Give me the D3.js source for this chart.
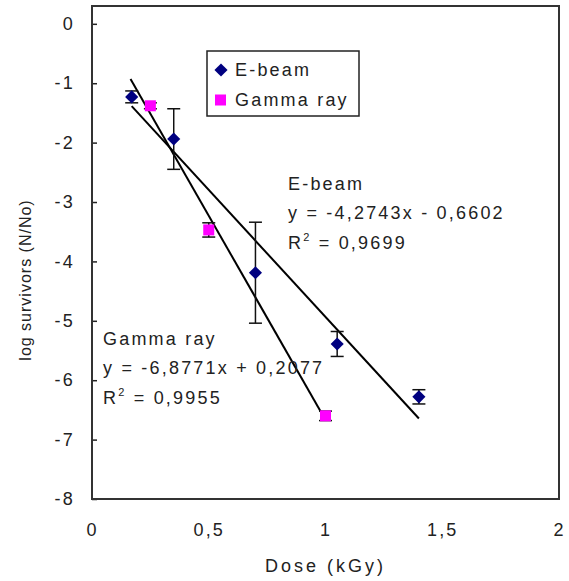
<!DOCTYPE html>
<html>
<head>
<meta charset="utf-8">
<script src="https://cdn.jsdelivr.net/npm/d3@7"></script>
<style>
  body { margin: 0; background: #fff; }
  text { font-family: "Liberation Sans", Arial, sans-serif; fill: #222; }
</style>
</head>
<body>
<svg id="chart" width="569" height="581"></svg>
<script>
// Survival data: log(N/No) against absorbed dose (kGy)
const ebeamDose = [0.17, 0.35, 0.70, 1.05, 1.40];
const ebeamLog  = [-1.23, -1.94, -4.19, -5.39, -6.28];
const ebeamErr  = [0.10, 0.51, 0.85, 0.21, 0.12];

const gammaDose = [0.25, 0.50, 1.00];
const gammaLog  = [-1.38, -3.47, -6.60];
const gammaErr  = [0.05, 0.12, 0.08];

// Linear trend lines (slope, intercept) and the dose span each one covers
const ebeamFit = [-4.2743, -0.6602];
const gammaFit = [-6.8771, 0.2077];
const ebeamFitSpan = [0.17, 1.40];
const gammaFitSpan = [0.165, 1.00];

const ebeamLabel = ["E-beam", "y = -4,2743x - 0,6602", "0,9699"];
const gammaLabel = ["Gamma ray", "y = -6,8771x + 0,2077", "0,9955"];
const seriesNames = ["E-beam", "Gamma ray"];

const xTicks = [0, 0.5, 1, 1.5, 2];
const xTickLabels = ["0", "0,5", "1", "1,5", "2"];
const yTicks = [0, -1, -2, -3, -4, -5, -6, -7, -8];

const navy = "#000080", magenta = "#ff00ff";

const svg = d3.select("#chart");
const frame = { left: 92, right: 559, top: 6, bottom: 499 };

const x = d3.scaleLinear().domain([0, 2]).range([frame.left, frame.right]);
const y = d3.scaleLinear().domain([-8, 0.3]).range([frame.bottom, frame.top]);

const fontSize = 18, spacing = 2.2;

// y axis: ticks point into the plot
const yAxis = svg.append("g")
  .attr("transform", `translate(${frame.left},0)`)
  .call(d3.axisLeft(y).tickValues(yTicks).tickSizeInner(-5).tickSizeOuter(0).tickPadding(17)
    .tickFormat(d => d === 0 ? "0" : "-" + Math.abs(d)));
yAxis.select(".domain").remove();
yAxis.selectAll(".tick line").attr("stroke", "#222").attr("stroke-width", 1.5);
yAxis.selectAll(".tick text").attr("font-size", fontSize).attr("letter-spacing", spacing)
  .attr("font-family", null).style("fill", "#222");

// x axis: labels only
const xAxis = svg.append("g")
  .attr("transform", `translate(0,${frame.bottom})`)
  .call(d3.axisBottom(x).tickValues(xTicks).tickSize(0).tickPadding(24)
    .tickFormat((d, i) => xTickLabels[i]));
xAxis.select(".domain").remove();
xAxis.selectAll(".tick text").attr("font-size", fontSize).attr("letter-spacing", spacing)
  .attr("font-family", null).style("fill", "#222");

// plot frame
svg.append("rect")
  .attr("x", frame.left).attr("y", frame.top)
  .attr("width", frame.right - frame.left).attr("height", frame.bottom - frame.top)
  .attr("fill", "none").attr("stroke", "#333").attr("stroke-width", 2);

// axis titles
svg.append("text")
  .attr("x", (frame.left + frame.right) / 2).attr("y", 572)
  .attr("text-anchor", "middle").attr("font-size", fontSize).attr("letter-spacing", 3)
  .text("Dose (kGy)");
svg.append("text")
  .attr("transform", `translate(31,280) rotate(-90)`)
  .attr("text-anchor", "middle").attr("font-size", 16).attr("letter-spacing", 1)
  .text("log survivors (N/No)");

// trend lines
function fitLine(fit, span) {
  svg.append("line")
    .attr("x1", x(span[0])).attr("y1", y(fit[0] * span[0] + fit[1]))
    .attr("x2", x(span[1])).attr("y2", y(fit[0] * span[1] + fit[1]))
    .attr("stroke", "#000").attr("stroke-width", 2);
}
fitLine(ebeamFit, ebeamFitSpan);
fitLine(gammaFit, gammaFitSpan);

// error bars
function errorBars(xs, ys, es) {
  const g = svg.append("g").attr("stroke", "#111").attr("stroke-width", 1.5);
  xs.forEach((d, i) => {
    const cx = x(d), hi = y(ys[i] + es[i]), lo = y(ys[i] - es[i]);
    g.append("line").attr("x1", cx).attr("x2", cx).attr("y1", hi).attr("y2", lo);
    g.append("line").attr("x1", cx - 6.5).attr("x2", cx + 6.5).attr("y1", hi).attr("y2", hi);
    g.append("line").attr("x1", cx - 6.5).attr("x2", cx + 6.5).attr("y1", lo).attr("y2", lo);
  });
}
errorBars(ebeamDose, ebeamLog, ebeamErr);
errorBars(gammaDose, gammaLog, gammaErr);

// markers
const diamond = d3.symbol().type(d3.symbolDiamond2).size(110);
svg.append("g").selectAll("path").data(ebeamDose).join("path")
  .attr("d", diamond)
  .attr("transform", (d, i) => `translate(${x(d)},${y(ebeamLog[i])})`)
  .attr("fill", navy);
svg.append("g").selectAll("rect").data(gammaDose).join("rect")
  .attr("x", d => x(d) - 5.5).attr("y", (d, i) => y(gammaLog[i]) - 5.5)
  .attr("width", 11).attr("height", 11).attr("fill", magenta);

// legend
const lg = svg.append("g");
lg.append("rect").attr("x", 207).attr("y", 51).attr("width", 152).attr("height", 65)
  .attr("fill", "#fff").attr("stroke", "#222").attr("stroke-width", 1.5);
lg.append("path").attr("d", diamond).attr("transform", "translate(221,70)").attr("fill", navy);
lg.append("rect").attr("x", 215).attr("y", 94.5).attr("width", 11).attr("height", 11).attr("fill", magenta);
lg.selectAll("text.series").data(seriesNames).join("text")
  .attr("x", 235).attr("y", (d, i) => 76 + i * 30)
  .attr("font-size", fontSize).attr("letter-spacing", spacing)
  .text(d => d);

// equation annotations
function annotate(lines, x0, y0) {
  const g = svg.append("g").attr("font-size", fontSize).attr("letter-spacing", spacing);
  g.append("text").attr("x", x0).attr("y", y0).text(lines[0]);
  g.append("text").attr("x", x0).attr("y", y0 + 29).text(lines[1]);
  const r = g.append("text").attr("x", x0).attr("y", y0 + 59);
  r.append("tspan").text("R");
  r.append("tspan").attr("font-size", 11).attr("dy", -8).text("2");
  r.append("tspan").attr("dy", 8).text(" = " + lines[2]);
}
annotate(ebeamLabel, 288, 190);
annotate(gammaLabel, 103, 345);
</script>
</body>
</html>
